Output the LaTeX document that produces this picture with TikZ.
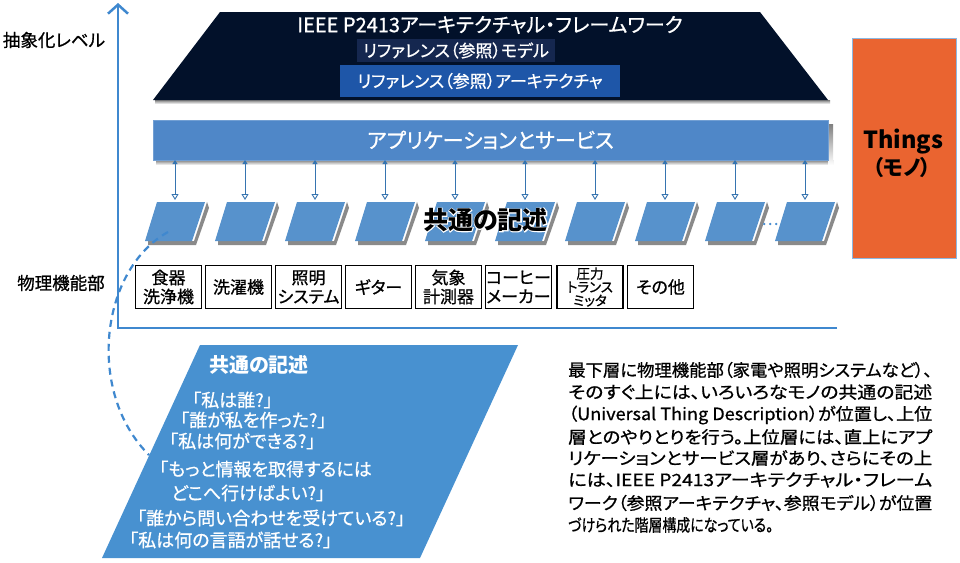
\documentclass[tikz,border=0pt]{standalone}
\usepackage{fontspec}
\usepackage{graphicx}
\setmainfont{Noto Sans CJK JP}[RawFeature=+palt, UprightFeatures={FakeBold=0.8}]
\newfontfamily\halofont{Noto Sans CJK JP}[RawFeature=+palt, BoldFeatures={FakeBold=6}]
\usetikzlibrary{arrows.meta}
\definecolor{navy}{HTML}{02112A}
\definecolor{modelbg}{HTML}{15274F}
\definecolor{archbg}{HTML}{1E56A8}
\definecolor{appbar}{HTML}{4F87C8}
\definecolor{para}{HTML}{5792CC}
\definecolor{bigpara}{HTML}{4891D0}
\definecolor{axisblue}{HTML}{3F88CF}
\definecolor{thingor}{HTML}{EA6430}
\definecolor{shade}{HTML}{8A8A8A}
\tikzset{
  axisline/.style={draw=axisblue, line width=2.5pt},
  lbl/.style={font=\fontsize{17.5}{20}\selectfont, inner sep=0pt},
  devbox/.style={draw=black, line width=1.6pt, minimum width=66pt, minimum height=43pt, inner sep=0pt, align=center, font=\fontsize{17}{19}\selectfont},
  paral/.style={fill=para},
  pshadow/.style={fill=shade},
  conn/.style={draw=axisblue!85!black, line width=0.9pt, {Triangle[length=4pt,width=5pt]}-{Triangle[open,length=6pt,width=7pt,fill=white]}},
  wtext/.style={text=white, inner sep=0pt, anchor=west, font=\fontsize{18}{21}\selectfont},
  desc/.style={inner sep=0pt, anchor=west, font=\fontsize{17}{20}\selectfont},
}
\begin{document}
\begin{tikzpicture}[x=1pt,y=-1pt]
\useasboundingbox[fill=white] (0,0) rectangle (960,562);

% axis
\coordinate (corner) at (118,328);
\coordinate (axtop) at (118,3);
\coordinate (axright) at (837,328);
\draw[axisline, -{Straight Barb[length=9pt,width=20pt,line width=2.5pt]}] (axright) -- (corner) -- (axtop);
\node[lbl] (abs) at (54,40) {抽象化レベル};
\node[lbl] (phys) at (61,283) {物理機能部};

% top framework trapezoid
\fill[shade] (155,100) -- (830,100) -- (830,104) -- (155,104) -- cycle;
\fill[navy] (220,12) -- (760,12) -- (828,100) -- (153,100) -- cycle;
\node[text=white, inner sep=0pt, font=\fontsize{20}{24}\selectfont] (title) at (490,25) {IEEE P2413アーキテクチャル・フレームワーク};
\node[fill=modelbg, text=white, minimum width=198pt, minimum height=23pt, inner sep=0pt, font=\fontsize{17}{20}\selectfont] (model) at (456,50.5) {リファレンス（参照）モデル};
\node[fill=archbg, text=white, minimum width=280pt, minimum height=32pt, inner sep=0pt, font=\fontsize{17}{20}\selectfont] (arch) at (480,81) {リファレンス（参照）アーキテクチャ};

% application bar
\fill[shade] (156,160) rectangle (833,165);
\fill[shade] (828,124) rectangle (833,165);
\node[fill=appbar, draw=appbar!80!white, text=white, minimum width=675pt, minimum height=40pt, inner sep=0pt, font=\fontsize{21}{24}\selectfont] (app) at (490.5,140) {アプリケーションとサービス};

% description parallelograms and connectors
\foreach \i in {0,...,9}{
  \pgfmathsetmacro{\cx}{175+70*\i}
  \fill[pshadow] (\cx-27,241) -- (\cx+19,241) -- (\cx+32,202) -- (\cx+34,208) -- (\cx+21,245) -- (\cx-27,245) -- cycle;
  \fill[paral] (\cx-18,202) -- (\cx+30,202) -- (\cx+17,241) -- (\cx-30,241) -- cycle;
  \coordinate (ptop\i) at (\cx,200);
  \coordinate (pbar\i) at (\cx,160);
  \draw[conn] (pbar\i) -- (ptop\i);
}
\node[text=axisblue, inner sep=0pt, font=\fontsize{16}{19}\selectfont] (dots) at (770,224) {…};
% big label with white halo
\node[text=white, inner sep=0pt, font=\halofont\bfseries\fontsize{25}{28}\selectfont] (halo) at (485.5,220) {共通の記述};
\node[text=black, inner sep=0pt, font=\bfseries\fontsize{25}{28}\selectfont] (common) at (485.5,220) {共通の記述};

% device boxes
\node[devbox] (d1) at (168.5,287) {食器\\洗浄機};
\node[devbox] (d2) at (238.5,287) {洗濯機};
\node[devbox] (d3) at (308.5,287) {照明\\システム};
\node[devbox] (d4) at (378.5,287) {ギター};
\node[devbox] (d5) at (448.5,287) {気象\\計測器};
\node[devbox] (d6) at (518.5,287) {コーヒー\\メーカー};
\node[devbox, font=\fontsize{13.5}{13.5}\selectfont] (d7) at (590,287) {圧力\\トランス\\ミッタ};
\node[devbox] (d8) at (660.5,287) {その他};

% Things box
\node[fill=thingor, draw=axisblue!60!white, line width=0.6pt, minimum width=104pt, minimum height=220pt, inner sep=0pt, align=center] (things) at (904.5,148) {};
\node[inner sep=0pt, font=\bfseries\fontsize{23.5}{26}\selectfont] (thingsT) at (903,142) {Things};
\node[inner sep=0pt, font=\bfseries\fontsize{21}{24}\selectfont] (thingsJ) at (902,168) {（モノ）};

% big parallelogram
\fill[bigpara] (200,345) -- (518,345) -- (420,558) -- (102,558) -- cycle;
\coordinate (bigedge) at (149,455);
\coordinate (pstart) at (168,232);
\draw[axisline, line width=2.2pt, dash pattern=on 7pt off 5pt] (pstart) .. controls (100,270) and (86,392) .. (bigedge);
\node[text=white, inner sep=0pt, font=\bfseries\fontsize{20}{23}\selectfont] (btitle) at (259,365) {共通の記述};
\node[wtext] (q1) at (192,400) {「私は誰?」};
\node[wtext] (q2) at (180,420) {「誰が私を作った?」};
\node[wtext] (q3) at (169,441) {「私は何ができる?」};
\node[wtext] (q4) at (159,469) {「もっと情報を取得するには};
\node[wtext] (q5) at (171,493) {どこへ行けばよい?」};
\node[wtext] (q6) at (137,518) {「誰から問い合わせを受けている?」};
\node[wtext] (q7) at (129,540) {「私は何の言語が話せる?」};

% description text
\node[desc] (t1) at (568,370) {\resizebox{364pt}{\height}{最下層に物理機能部（家電や照明システムなど）、}};
\node[desc] (t2) at (568,392) {\resizebox{364pt}{\height}{そのすぐ上には、いろいろなモノの共通の記述}};
\node[desc] (t3) at (568,415) {\resizebox{364pt}{\height}{（Universal Thing Description）が位置し、上位}};
\node[desc] (t4) at (568,437) {\resizebox{364pt}{\height}{層とのやりとりを行う。上位層には、直上にアプ}};
\node[desc] (t5) at (568,458) {\resizebox{364pt}{\height}{リケーションとサービス層があり、さらにその上}};
\node[desc] (t6) at (568,480) {\resizebox{364pt}{\height}{には、IEEE P2413アーキテクチャル・フレーム}};
\node[desc] (t7) at (568,503) {\resizebox{364pt}{\height}{ワーク（参照アーキテクチャ、参照モデル）が位置}};
\node[desc] (t8) at (568,525) {\resizebox{205pt}{\height}{づけられた階層構成になっている。}};
\end{tikzpicture}
\end{document}
